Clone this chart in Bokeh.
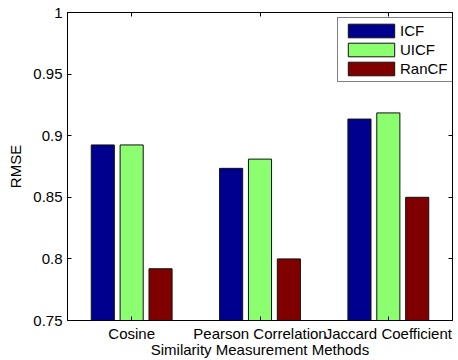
from bokeh.plotting import figure
from bokeh.models import FactorRange, Range1d, FixedTicker, LinearAxis, CategoricalAxis, Legend, LegendItem, ColumnDataSource
from bokeh.transform import dodge
from bokeh.embed import file_html
from bokeh.resources import INLINE

categories = ["Cosine", "Pearson Correlation", "Jaccard Coefficient"]
series_names = ["ICF", "UICF", "RanCF"]
icf = [0.8925, 0.8735, 0.9135]
uicf = [0.8925, 0.8810, 0.9185]
rancf = [0.7920, 0.8000, 0.8500]
colors = ["#00008F", "#8CFF70", "#800000"]
y_ticks = [0.75, 0.8, 0.85, 0.9, 0.95, 1.0]
y_tick_labels = ["0.75", "0.8", "0.85", "0.9", "0.95", "1"]

FONT = "Liberation Sans"
FS = "15px"

src = ColumnDataSource(dict(cat=categories, ICF=icf, UICF=uicf, RanCF=rancf))

p = figure(x_range=FactorRange(*categories, range_padding=0, factor_padding=0),
           y_range=Range1d(0.75, 1.0),
           width=458, height=360, output_backend="svg", toolbar_location=None,
           min_border_left=67, min_border_right=6, min_border_top=12, min_border_bottom=40)

offsets = [-0.225, 0.0, 0.225]
renderers = []
for name, off, col in zip(series_names, offsets, colors):
    r = p.vbar(x=dodge("cat", off, range=p.x_range), top=name, bottom=0.75, width=0.18,
               source=src, fill_color=col, line_color="#111111", line_width=1)
    renderers.append(r)

p.grid.visible = False
p.outline_line_color = "black"
p.outline_line_width = 1
p.background_fill_color = "white"
p.border_fill_color = "white"

# y axis (left)
ya = p.yaxis[0]
ya.ticker = FixedTicker(ticks=y_ticks)
ya.major_label_overrides = {t: l for t, l in zip(y_ticks, y_tick_labels)}
ya.axis_label = "RMSE"
ya.axis_label_text_font = FONT
ya.axis_label_text_font_size = FS
ya.axis_label_text_font_style = "normal"
ya.axis_label_text_color = "black"
ya.axis_label_standoff = 6
ya.major_label_text_font = FONT
ya.major_label_text_font_size = FS
ya.major_label_text_color = "black"
ya.major_tick_in = 4
ya.major_tick_out = 0
ya.minor_tick_in = 0
ya.minor_tick_out = 0
ya.major_label_standoff = 5

# x axis (bottom)
xa = p.xaxis[0]
xa.axis_label = "Similarity Measurement Methods"
xa.axis_label_text_font = FONT
xa.axis_label_text_font_size = FS
xa.axis_label_text_font_style = "normal"
xa.axis_label_text_color = "black"
xa.axis_label_standoff = -4
xa.major_label_text_font = FONT
xa.major_label_text_font_size = FS
xa.major_label_text_color = "black"
xa.major_tick_in = 4
xa.major_tick_out = 0
xa.major_label_standoff = 4
xa.major_label_orientation = "horizontal"

# top and right axes (tick marks only)
top = CategoricalAxis(major_label_text_color=None, major_tick_in=4, major_tick_out=0,
                      major_label_standoff=0, axis_line_color="black")
top.major_label_text_font_size = "0px"
p.add_layout(top, "above")
right = LinearAxis(ticker=FixedTicker(ticks=y_ticks), major_label_text_color=None,
                   major_tick_in=4, major_tick_out=0, minor_tick_in=0, minor_tick_out=0,
                   major_label_standoff=0)
right.major_label_text_font_size = "0px"
p.add_layout(right, "right")

legend = Legend(items=[LegendItem(label=n, renderers=[r]) for n, r in zip(series_names, renderers)],
                location=(270, 238), orientation="vertical",
                glyph_width=58, glyph_height=17, label_height=17,
                label_standoff=0, spacing=2, padding=4, margin=0,
                label_text_font=FONT, label_text_font_size=FS, label_text_color="black",
                border_line_color="black", border_line_width=1,
                background_fill_color="white", background_fill_alpha=1)
p.add_layout(legend, "center")

open("out.html", "w").write(file_html(p, INLINE))
